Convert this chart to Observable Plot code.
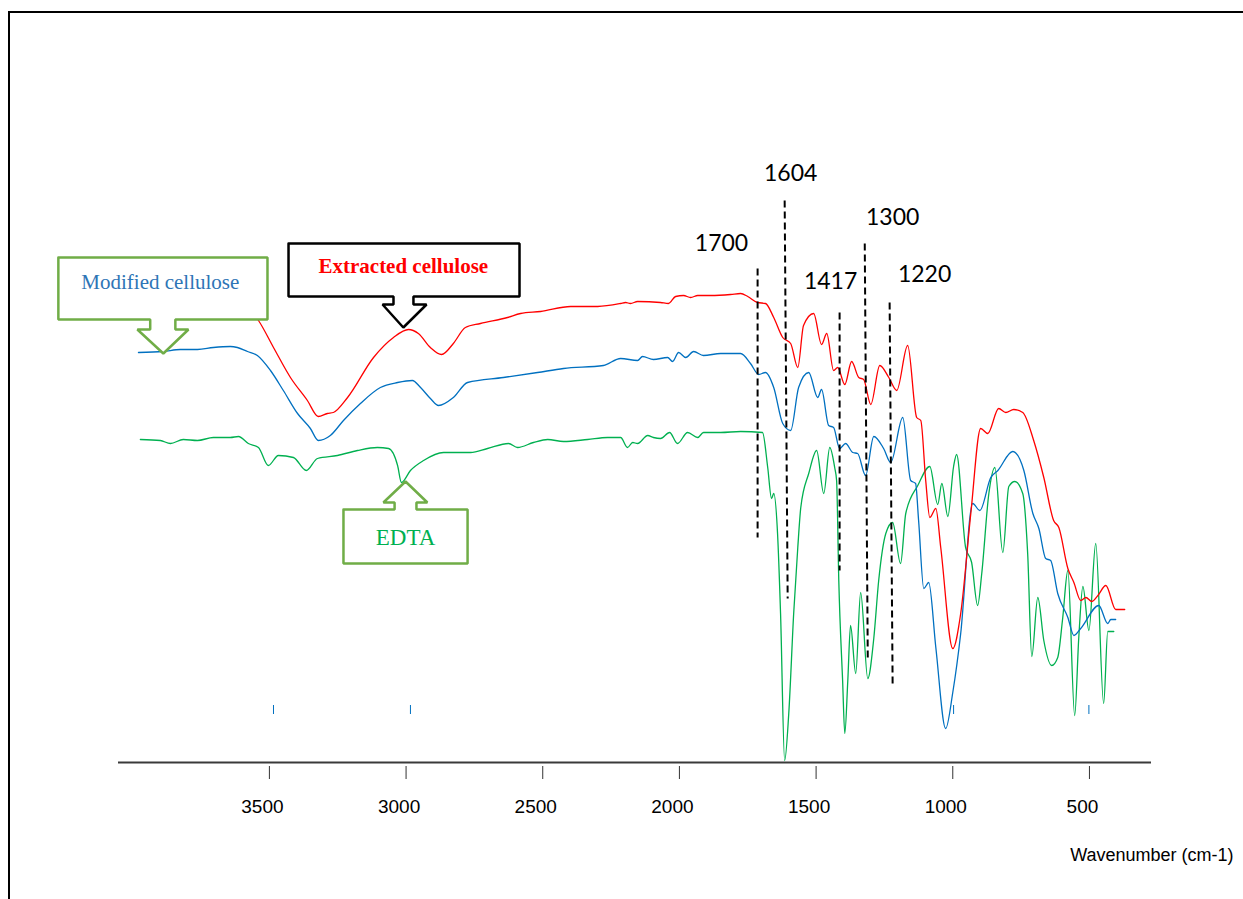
<!DOCTYPE html>
<html>
<head>
<meta charset="utf-8">
<script src="https://cdn.jsdelivr.net/npm/d3@7"></script>
<script src="https://cdn.jsdelivr.net/npm/@observablehq/plot@0.6"></script>
<style>
  html, body { margin: 0; padding: 0; background: #fff; }
  #wrap { position: relative; width: 1243px; height: 899px; overflow: hidden; }
  #frame { position: absolute; left: 8px; top: 11px; width: 1300px; height: 1000px;
           border-top: 2px solid #000; border-left: 2px solid #000; box-sizing: border-box; }
  #chart { position: absolute; left: 0; top: 0; }
</style>
</head>
<body>
<div id="wrap"><div id="frame"></div><div id="chart"></div></div>
<script>
// ---- Spectra (wavenumber cm-1, relative transmittance %) ----
const wnRed = [3972,3752,3624,3569,3540,3485,3423,3361,3321,3288,3266,3214,3119,3046,2991,2955,2911,2870,2827,2783,2728,2629,2581,2508,2398,2299,2215,2197,2179,2153,2069,2040,2014,1985,1959,1933,1886,1813,1776,1750,1714,1685,1655,1622,1593,1567,1546,1509,1480,1461,1436,1421,1395,1370,1344,1326,1300,1267,1234,1205,1165,1132,1117,1099,1084,1062,1044,1000,971,934,898,872,832,806,777,744,704,667,631,612,579,557,532,513,491,469,440,404,371];
const tRed  = [92.4,92.8,92.0,90.4,88.4,83.0,77.0,72.4,69.2,69.8,70.0,73.0,81.0,85.0,86.6,85.8,83.0,81.6,83.8,87.0,87.8,89.0,89.8,90.2,91.2,91.2,91.8,92.0,91.8,92.2,92.0,91.8,93.2,93.4,93.0,93.4,93.4,93.6,93.8,93.2,92.0,91.8,89.0,85.0,83.8,79.0,87.4,89.8,83.6,85.8,78.4,79.0,75.6,80.2,77.0,76.6,71.6,79.4,77.0,74.4,83.4,69.0,68.4,56.4,49.0,50.8,43.0,22.8,29.8,49.8,66.8,65.8,70.8,70.0,70.6,70.0,64.4,57.0,48.4,47.0,38.8,36.0,32.4,33.0,32.2,33.4,35.4,30.6,30.6];

const wnBlue = [3979,3888,3826,3763,3705,3643,3617,3580,3544,3496,3449,3397,3350,3321,3277,3229,3167,3094,3031,2977,2947,2911,2881,2827,2775,2644,2519,2424,2278,2215,2153,2135,2095,2043,2025,2003,1977,1948,1912,1849,1776,1740,1710,1685,1655,1622,1593,1564,1527,1494,1480,1454,1436,1414,1392,1366,1348,1319,1289,1253,1227,1183,1154,1136,1125,1106,1088,1062,1026,1000,971,927,901,861,835,781,740,707,685,660,642,616,579,557,532,466,433,422,404];
const tBlue  = [82.0,82.2,82.6,82.6,83.0,83.2,83.0,82.2,81.4,78.4,74.4,69.8,66.8,64.4,65.4,68.4,71.8,75.0,76.0,76.4,75.0,72.8,71.4,73.0,76.0,77.0,78.0,78.8,79.4,80.8,80.4,81.2,80.6,81.0,80.2,82.0,81.0,82.2,81.4,81.8,81.8,79.8,77.6,78.0,75.0,67.8,66.4,75.0,78.0,73.0,74.6,67.4,67.0,62.8,63.8,62.0,61.8,57.4,65.2,62.8,60.0,69.0,56.4,55.8,48.4,34.8,36.0,23.0,6.8,14.0,25.8,51.8,50.4,57.0,58.4,62.2,58.4,49.8,46.8,40.8,40.4,33.8,29.0,25.4,26.8,31.4,27.8,28.6,28.6];

const wnGreen = [3972,3899,3862,3815,3763,3705,3643,3613,3577,3540,3504,3467,3412,3365,3324,3251,3178,3105,3064,3031,3017,2984,2936,2863,2764,2702,2625,2592,2534,2482,2424,2336,2263,2215,2190,2171,2153,2116,2095,2069,2036,2007,1970,1933,1912,1849,1776,1696,1677,1663,1655,1641,1630,1615,1600,1582,1567,1556,1527,1498,1472,1450,1432,1425,1417,1403,1395,1384,1374,1355,1337,1311,1289,1271,1245,1220,1191,1172,1128,1084,1055,1040,1018,997,986,953,931,909,894,868,846,817,795,773,744,726,711,689,667,638,616,598,579,554,539,524,502,477,448,433,411];
const tGreen  = [64.6,64.4,63.8,64.6,64.4,65.0,65.0,65.2,63.8,63.0,59.4,61.4,61.0,58.4,60.8,61.4,62.4,63.0,62.8,59.4,56.0,58.4,60.4,62.0,62.0,62.8,63.8,63.0,64.0,64.6,64.2,64.6,65.0,65.0,63.0,64.0,63.8,65.4,65.0,64.8,66.0,63.8,66.0,65.0,66.0,66.0,66.2,66.0,59.0,52.8,53.8,45.8,29.8,0.4,9.8,29.8,43.0,51.0,57.8,62.4,53.8,63.0,59.0,56.4,36.4,16.4,5.8,16.4,27.4,17.8,34.0,16.8,24.8,36.4,45.8,48.0,39.8,49.8,55.4,59.2,51.6,55.8,49.2,59.2,61.6,43.0,40.0,31.4,37.8,53.8,59.0,42.0,55.2,56.2,53.8,41.8,21.2,33.0,24.4,19.4,21.0,28.8,38.4,9.4,25.0,35.2,26.4,43.8,11.8,26.2,26.2];

// ---- Axis ----
const xTicks = [3500, 3000, 2500, 2000, 1500, 1000, 500];
const axisTitle = "Wavenumber (cm-1)";
const markerWn = [3485, 2984, 997, 502];

// ---- Peak annotations (dashed lines) ----
const peakLabels = ["1700", "1604", "1417", "1300", "1220"];
const peakTopWn = [1714, 1615, 1414, 1322, 1231];
const peakBottomWn = [1714, 1604, 1414, 1311, 1220];
const peakTopT = [98.8, 112.4, 90.0, 103.8, 92.0];
const peakBottomT = [45.0, 32.8, 38.4, 21.0, 15.4];
const peakLabelWn = [1846, 1593, 1447, 1220, 1103];
const peakLabelT = [103.8, 117.8, 96.2, 109.0, 97.6];

// ---- Callouts ----
const calloutNames = ["Modified cellulose", "Extracted cellulose", "EDTA"];
const calloutWn = [
  [4272, 3507, 3507, 3844, 3844, 3796, 3888, 3983, 3936, 3936, 4272, 4272],
  [3430, 2585, 2585, 2973, 2973, 2925, 3010, 3086, 3046, 3046, 3430, 3430],
  [3229, 3042, 3042, 3083, 3002, 2922, 2962, 2962, 2775, 2775, 3229, 3229]
];
const calloutT = [
  [101, 101, 88.6, 88.6, 86.6, 86.6, 81.8, 86.6, 86.6, 88.6, 88.6, 101],
  [103.8, 103.8, 93.2, 93.2, 91.6, 91.6, 87.0, 91.6, 91.6, 93.2, 93.2, 103.8],
  [50.6, 50.6, 52, 52, 56.2, 52, 52, 50.6, 50.6, 39.8, 39.8, 50.6]
];
const calloutStroke = ["#70AD47", "#000000", "#70AD47"];
const calloutTextWn = [3899, 3010, 3002];
const calloutTextT = [96.0, 99.2, 45.0];
const calloutTextColor = ["#2E75B6", "#FF0000", "#00B050"];
const calloutTextWeight = ["normal", "bold", "normal"];
const calloutTextSize = [21, 21, 23];

const toRows = (wn, t) => wn.map((w, i) => ({wn: w, t: t[i]}));
const red = toRows(wnRed, tRed);
const blue = toRows(wnBlue, tBlue);
const green = toRows(wnGreen, tGreen);

const peaks = peakLabels.map((l, i) => ({label: l, x1: peakTopWn[i], x2: peakBottomWn[i], y1: peakTopT[i], y2: peakBottomT[i], lx: peakLabelWn[i], ly: peakLabelT[i]}));

const calloutRows = calloutNames.flatMap((n, k) => calloutWn[k].map((w, i) => ({id: n, wn: w, t: calloutT[k][i]})));
const calloutTexts = calloutNames.map((n, k) => ({name: n, wn: calloutTextWn[k], t: calloutTextT[k]}));

const axisFont = "'Liberation Sans Narrow', 'Arial Narrow', 'Liberation Sans', Arial, sans-serif";

const marks = [
  Plot.ruleY([0], {stroke: "#3a3a3a", strokeWidth: 2}),
  Plot.axisX({ticks: xTicks, tickSize: 13, dy: 4, tickFormat: () => "", stroke: "#333", strokeWidth: 1}),
  Plot.axisX({ticks: xTicks, tickSize: 0, tickPadding: 37, dx: -7, fontSize: 19, fontFamily: axisFont, fill: "#000", tickFormat: d => String(d)}),
  Plot.text([axisTitle], {frameAnchor: "bottom-right", dx: 82, dy: 93, textAnchor: "end", lineAnchor: "middle", fontSize: 18, fontFamily: axisFont, fill: "#000"}),
  Plot.ruleX(markerWn, {y1: 9.6, y2: 11.4, stroke: "#0070C0", strokeWidth: 1}),
  Plot.line(green, {x: "wn", y: "t", stroke: "#00B050", strokeWidth: 1.3, curve: "monotone-x"}),
  Plot.line(blue, {x: "wn", y: "t", stroke: "#0070C0", strokeWidth: 1.3, curve: "monotone-x"}),
  Plot.line(red, {x: "wn", y: "t", stroke: "#FF0000", strokeWidth: 1.3, curve: "monotone-x"}),
  Plot.link(peaks, {x1: "x1", y1: "y1", x2: "x2", y2: "y2", stroke: "#000", strokeWidth: 2, strokeDasharray: "7,4"}),
  Plot.text(peaks, {x: "lx", y: "ly", text: "label", fontSize: 23, fontFamily: "Lato, 'Open Sans', sans-serif", fill: "#000", lineAnchor: "middle"}),
  Plot.line(calloutRows, {x: "wn", y: "t", z: "id", fill: "white", stroke: (d) => calloutStroke[calloutNames.indexOf(d.id)], strokeWidth: 2.5, strokeLinejoin: "miter", curve: "linear"}),
  ...calloutTexts.map((c, k) => Plot.text([c], {x: "wn", y: "t", text: "name", fill: calloutTextColor[k], fontWeight: calloutTextWeight[k], fontSize: calloutTextSize[k], fontFamily: "'Liberation Serif', 'Times New Roman', serif", lineAnchor: "middle"}))
];

const chart = Plot.plot({
  width: 1243,
  height: 899,
  marginLeft: 118,
  marginRight: 92,
  marginTop: 12,
  marginBottom: 137,
  x: {domain: [4052, 273], label: null},
  y: {domain: [0, 150], axis: null, label: null},
  style: {background: "transparent", overflow: "visible"},
  marks
});
document.getElementById("chart").appendChild(chart);
</script>
</body>
</html>
